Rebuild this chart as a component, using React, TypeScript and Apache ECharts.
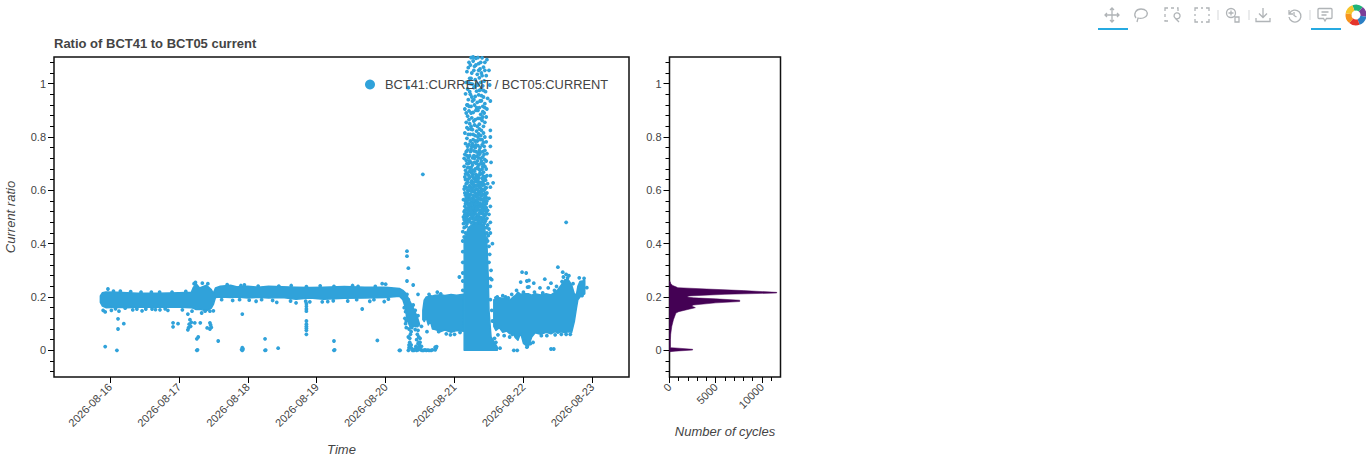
import React, { useEffect, useRef } from "react";
import * as echarts from "echarts";

const TITLE = "Ratio of BCT41 to BCT05 current";
const SERIES_NAME = "BCT41:CURRENT / BCT05:CURRENT";
const DAY_ZERO = Date.UTC(2026, 7, 16);
const DAY_MS = 86400000;

const dayTicks = ["2026-08-16", "2026-08-17", "2026-08-18", "2026-08-19", "2026-08-20", "2026-08-21", "2026-08-22", "2026-08-23"];
const ratioTicks = [0, 0.2, 0.4, 0.6, 0.8, 1];
const ratioMinor = [-0.08, -0.04, 0.04, 0.08, 0.12, 0.16, 0.24, 0.28, 0.32, 0.36, 0.44, 0.48, 0.52, 0.56, 0.64, 0.68, 0.72, 0.76, 0.84, 0.88, 0.92, 0.96, 1.04, 1.08];
const countTicks = [0, 5000, 10000];
const countMinor = [1000, 2000, 3000, 4000, 6000, 7000, 8000, 9000, 11000];

// dense measurement bands: [day offset from 2026-08-16, upper ratio, lower ratio]
const bandSteady: number[][] = [
  [-0.14, 0.204, 0.18], [-0.11, 0.216, 0.166], [-0.06, 0.219, 0.16], [0.1, 0.218, 0.162], [0.25, 0.216, 0.16], [0.4, 0.214, 0.162],
  [0.7, 0.214, 0.162], [1.0, 0.216, 0.162], [1.18, 0.218, 0.16], [1.21, 0.236, 0.158], [1.25, 0.25, 0.153],
  [1.3, 0.234, 0.154], [1.4, 0.244, 0.148], [1.47, 0.228, 0.158], [1.5, 0.214, 0.172], [1.53, 0.234, 0.198],
  [1.6, 0.24, 0.2], [1.75, 0.244, 0.198], [1.85, 0.238, 0.2], [2.0, 0.24, 0.196], [2.15, 0.237, 0.199], [2.3, 0.24, 0.196], [2.5, 0.238, 0.198], [2.7, 0.237, 0.192],
  [2.9, 0.236, 0.196], [3.1, 0.237, 0.192], [3.4, 0.239, 0.195], [3.7, 0.237, 0.196], [4.0, 0.237, 0.198], [4.2, 0.232, 0.203],
  [4.25, 0.225, 0.19], [4.28, 0.218, 0.165], [4.31, 0.205, 0.12], [4.35, 0.185, 0.09], [4.4, 0.16, 0.09], [4.46, 0.125, 0.088], [4.49, 0.1, 0.095],
];
const bandRecovery: number[][] = [
  [4.54, 0.15, 0.115], [4.56, 0.188, 0.108], [4.59, 0.2, 0.122], [4.62, 0.202, 0.095], [4.65, 0.205, 0.11], [4.68, 0.204, 0.08], [4.72, 0.207, 0.078],
  [4.8, 0.208, 0.07], [4.86, 0.206, 0.076], [4.95, 0.209, 0.068], [5.03, 0.207, 0.074], [5.13, 0.21, 0.072],
];
const bandColumn: number[][] = [
  [5.14, 0.41, 0], [5.2, 0.46, 0], [5.3, 0.48, 0], [5.43, 0.47, 0], [5.47, 0.4, 0], [5.49, 0.27, 0],
  [5.5, 0.15, 0], [5.53, 0.05, 0], [5.62, 0.012, 0],
];
const bandUnstable: number[][] = [
  [5.57, 0.19, 0.09], [5.6, 0.19, 0.075], [5.65, 0.197, 0.085], [5.7, 0.195, 0.068], [5.76, 0.198, 0.072], [5.8, 0.188, 0.062], [5.85, 0.2, 0.066], [5.88, 0.205, 0.048],
  [5.92, 0.218, 0.038], [5.96, 0.21, 0.065], [6.0, 0.212, 0.026], [6.07, 0.212, 0.012], [6.12, 0.207, 0.05], [6.17, 0.212, 0.066], [6.25, 0.208, 0.06],
  [6.33, 0.212, 0.068], [6.4, 0.208, 0.062], [6.46, 0.218, 0.07], [6.5, 0.228, 0.064], [6.55, 0.245, 0.07], [6.6, 0.265, 0.066], [6.65, 0.265, 0.07], [6.7, 0.245, 0.068],
  [6.74, 0.21, 0.11], [6.77, 0.21, 0.16], [6.79, 0.24, 0.19], [6.82, 0.258, 0.2], [6.89, 0.262, 0.212],
];

const isolatedPoints: number[][] = [
  [-0.03, 0.23], [-0.07, 0.144], [-0.1, 0.15], [0.13, 0.147], [0.116, 0.118], [0.2, 0.1], [0.116, 0.08], [-0.07, 0.014], [0.1, 0.0],
  [0.39, 0.155], [0.465, 0.148], [0.61, 0.155], [0.66, 0.153], [0.725, 0.152], [0.915, 0.103], [0.987, 0.1], [0.915, 0.088],
  [1.13, 0.136], [1.19, 0.147], [1.16, 0.115], [1.18, 0.105], [1.15, 0.098], [1.17, 0.09], [1.13, 0.077], [1.14, 0.085],
  [1.23, 0.103], [1.31, 0.103], [1.41, 0.084], [1.45, 0.103], [1.46, 0.095], [1.45, 0.08], [1.47, 0.086], [1.45, 0.147],
  [1.28, 0.05], [1.26, 0.043], [1.57, 0.035], [1.26, 0.0], [1.27, 0.002], [1.92, 0.136], [1.92, 0.0], [1.93, 0.005], [1.92, 0.01], [1.91, 0.003],
  [2.25, 0.043], [2.25, 0], [2.26, 0.001], [2.44, 0.008], [2.85, 0.175], [2.85, 0.165], [2.85, 0.155], [2.85, 0.147], [2.85, 0.11],
  [2.85, 0.098], [2.85, 0.09], [2.85, 0.083], [2.85, 0.075], [2.85, 0.06], [3.66, 0.155], [3.25, 0.035], [3.25, 0], [3.26, 0.002],
  [3.88, 0.037], [4.2, 0], [3.95, 0.25],
  [4.31, 0.372], [4.31, 0.353], [4.33, 0.308], [4.4, 0.245], [4.31, 0.26], [4.47, 0.21], [4.21, 0], [4.54, 0.66], [4.33, 0.985],
  [5.07, 0.275], [6.62, 0.48], [5.98, 0.293], [6.04, 0.29], [6.5, 0.312], [6.57, 0.293], [6.81, 0.272], [6.31, 0.267],
  [5.96, 0.256], [6.05, 0.26], [6.08, 0.262], [6.15, 0.252], [6.06, 0.237], [6.08, 0.238], [6.24, 0.234], [6.4, 0.252], [6.36, 0.234],
  [6.4, 0.005], [5.86, 0], [6.05, 0.012], [6.02, 0.033], [6.44, 0.005], [5.91, 0], [6.62, 0.285], [6.66, 0.28],
];

// the low cluster beside the 08-20 drop
const lowCluster: number[][] = [
  [4.33, 0], [4.34, 0.01], [4.35, 0.03], [4.33, 0.05], [4.36, 0.06], [4.34, 0.08], [4.36, 0.1], [4.37, 0.02], [4.39, 0], [4.41, 0],
  [4.43, 0.005], [4.45, 0], [4.47, 0.002], [4.49, 0.01], [4.5, 0.03], [4.48, 0.05], [4.46, 0.06], [4.45, 0.04], [4.47, 0.025], [4.52, 0.015],
  [4.51, 0.002], [4.53, 0], [4.55, 0], [4.57, 0.002], [4.59, 0], [4.61, 0.001], [4.63, 0], [4.66, 0], [4.68, 0.002], [4.72, 0.002],
  [4.73, 0.008], [4.74, 0.014], [4.72, 0.012], [4.3, 0.11], [4.32, 0.13], [4.5, 0.045], [4.49, 0.02],
  [4.35, 0.045], [4.37, 0.07], [4.34, 0.02], [4.36, 0.012], [4.38, 0.006], [4.44, 0.015], [4.46, 0.01], [4.48, 0.03], [4.5, 0.006], [4.42, 0.002],
  [4.28, 0.12], [4.29, 0.1], [4.3, 0.085], [4.38, 0.085], [4.43, 0.078], [4.47, 0.075], [4.52, 0.09],
];

// band edge scatter
const edgePoints: number[][] = [
  [0.02, 0.15], [0.08, 0.156], [0.22, 0.158], [0.33, 0.152], [0.52, 0.155], [0.8, 0.156], [0.84, 0.15], [1.05, 0.152],
  [1.33, 0.14], [1.38, 0.147], [1.5, 0.148], [1.62, 0.19], [1.78, 0.187], [1.88, 0.19], [2.02, 0.188], [2.12, 0.184], [2.2, 0.19],
  [2.36, 0.187], [2.42, 0.18], [2.62, 0.185], [2.7, 0.178], [2.84, 0.184], [2.9, 0.182], [3.08, 0.182], [3.16, 0.183], [3.24, 0.186],
  [3.45, 0.185], [3.58, 0.19], [3.77, 0.184], [3.83, 0.19], [3.98, 0.183], [4.04, 0.192], [0.05, 0.222], [0.3, 0.22], [0.72, 0.218],
  [1.22, 0.25], [1.24, 0.255], [1.34, 0.252], [1.42, 0.25], [1.7, 0.246], [1.95, 0.245], [2.63, 0.243], [3.05, 0.242], [3.52, 0.243], [4.0, 0.248],
  [4.63, 0.21], [4.75, 0.218], [4.8, 0.212], [4.6, 0.07], [4.77, 0.07], [4.88, 0.062], [5.0, 0.06], [5.08, 0.067], [4.94, 0.058],
  [5.63, 0.058], [5.72, 0.055], [5.8, 0.05], [5.84, 0.06], [5.62, 0.2], [5.7, 0.205], [5.74, 0.2], [5.83, 0.21], [6.1, 0.025], [6.14, 0.03],
  [6.26, 0.055], [6.34, 0.055], [6.46, 0.058], [6.55, 0.06], [6.62, 0.06], [6.68, 0.06], [6.74, 0.16], [6.76, 0.18], [6.16, 0.218], [6.28, 0.215],
  [6.45, 0.225], [6.48, 0.24], [6.56, 0.258], [6.58, 0.275], [6.64, 0.272], [6.72, 0.25], [6.88, 0.27], [6.92, 0.235], [6.85, 0.205], [5.55, 0.11],
  [5.52, 0.19], [5.54, 0.15], [5.55, 0.03], [5.66, 0.008], [5.6, 0.03], [5.58, 0.045],
  [0.15, 0.222], [0.45, 0.218], [0.6, 0.218], [0.9, 0.218], [1.1, 0.221], [1.9, 0.243], [2.15, 0.241], [2.45, 0.241], [2.85, 0.239], [3.25, 0.24], [3.6, 0.24], [3.85, 0.24],
  [4.31, 0.21], [4.33, 0.19], [4.27, 0.16], [4.29, 0.145], [4.33, 0.115], [4.4, 0.17], [4.43, 0.15], [4.47, 0.13], [5.6, 0.197], [5.78, 0.197], [5.9, 0.225], [6.0, 0.218],
];

// sparse part of the tall column, top to bottom
const columnDots: number[][] = [
  [5.24, 1.098], [5.31, 1.095], [5.4, 1.097], [5.47, 1.09], [5.21, 1.08], [5.27, 1.085], [5.35, 1.075], [5.44, 1.08], [5.2, 1.06], [5.29, 1.065],
  [5.37, 1.055], [5.42, 1.062], [5.5, 1.05], [5.18, 1.045], [5.25, 1.04], [5.33, 1.035], [5.39, 1.04], [5.46, 1.03], [5.22, 1.02], [5.3, 1.015],
  [5.36, 1.022], [5.43, 1.01], [5.17, 1.005], [5.26, 0.998], [5.34, 0.995], [5.41, 0.992], [5.51, 0.995], [5.19, 0.98], [5.28, 0.985], [5.32, 0.972],
  [5.38, 0.978], [5.45, 0.97], [5.16, 0.962], [5.23, 0.96], [5.3, 0.952], [5.35, 0.958], [5.42, 0.95], [5.48, 0.945], [5.2, 0.94], [5.26, 0.935],
  [5.33, 0.93], [5.39, 0.936], [5.44, 0.925], [5.52, 0.935], [5.18, 0.92], [5.24, 0.915], [5.29, 0.92], [5.36, 0.91], [5.41, 0.915], [5.47, 0.905],
  [5.15, 0.905], [5.21, 0.898], [5.27, 0.892], [5.31, 0.9], [5.38, 0.885], [5.43, 0.89], [5.19, 0.878], [5.25, 0.872], [5.34, 0.87], [5.4, 0.862],
  [5.46, 0.875], [5.17, 0.855], [5.22, 0.85], [5.29, 0.845], [5.36, 0.848], [5.42, 0.84], [5.2, 0.83], [5.26, 0.828], [5.32, 0.822], [5.39, 0.825],
  [5.52, 0.825], [5.15, 0.815], [5.23, 0.81], [5.3, 0.805], [5.35, 0.812], [5.44, 0.8], [5.52, 0.8], [5.18, 0.795], [5.27, 0.79], [5.33, 0.785],
  [5.4, 0.79], [5.46, 0.782], [5.16, 0.775], [5.21, 0.772], [5.25, 0.765], [5.31, 0.77], [5.37, 0.76], [5.43, 0.765], [5.52, 0.765], [5.19, 0.752],
  [5.28, 0.748], [5.34, 0.74], [5.41, 0.745], [5.47, 0.738], [5.15, 0.735], [5.22, 0.73], [5.26, 0.722], [5.32, 0.728], [5.38, 0.72], [5.44, 0.715],
  [5.17, 0.712], [5.2, 0.7], [5.29, 0.705], [5.35, 0.695], [5.42, 0.7], [5.53, 0.705], [5.14, 0.69], [5.24, 0.685], [5.3, 0.68], [5.37, 0.675],
  [5.46, 0.68], [5.18, 0.665], [5.22, 0.67], [5.27, 0.66], [5.33, 0.655], [5.4, 0.662], [5.44, 0.65], [5.52, 0.655], [5.15, 0.65], [5.2, 0.642],
  [5.25, 0.635], [5.31, 0.64], [5.36, 0.63], [5.42, 0.635], [5.48, 0.625], [5.56, 0.628], [5.17, 0.625], [5.22, 0.618], [5.28, 0.612], [5.34, 0.62],
  [5.39, 0.605], [5.45, 0.61], [5.52, 0.612], [5.14, 0.605], [5.19, 0.6], [5.25, 0.595], [5.3, 0.59], [5.36, 0.595], [5.41, 0.585], [5.47, 0.59],
  [5.16, 0.582], [5.21, 0.575], [5.27, 0.57], [5.32, 0.578], [5.38, 0.565], [5.43, 0.572], [5.5, 0.57], [5.13, 0.565], [5.18, 0.558], [5.24, 0.555],
  [5.29, 0.548], [5.34, 0.555], [5.4, 0.545], [5.46, 0.55], [5.52, 0.54], [5.15, 0.54], [5.2, 0.535], [5.26, 0.53], [5.31, 0.538], [5.37, 0.525],
  [5.42, 0.532], [5.48, 0.525], [5.14, 0.52], [5.18, 0.515], [5.23, 0.51], [5.28, 0.52], [5.33, 0.505], [5.39, 0.515], [5.44, 0.505], [5.5, 0.51],
  [5.13, 0.5], [5.16, 0.49], [5.19, 0.505], [5.22, 0.485], [5.26, 0.495], [5.36, 0.5], [5.41, 0.49], [5.47, 0.495], [5.52, 0.48], [5.13, 0.475],
  [5.48, 0.47], [5.5, 0.455], [5.52, 0.44], [5.12, 0.445], [5.49, 0.43], [5.55, 0.4], [5.12, 0.41], [5.5, 0.39], [5.12, 0.37], [5.51, 0.36],
  [5.12, 0.33], [5.5, 0.33], [5.53, 0.3], [5.12, 0.29], [5.52, 0.27], [5.54, 0.265], [5.12, 0.26], [5.52, 0.24], [5.12, 0.225],
];

// further readings of the same column, filling the denser lower part
const columnDotsDense: number[][] = [
  [5.15, 0.48], [5.18, 0.475], [5.21, 0.49], [5.24, 0.478], [5.27, 0.482], [5.3, 0.49], [5.32, 0.477], [5.35, 0.485], [5.38, 0.478], [5.4, 0.483],
  [5.43, 0.475], [5.45, 0.485], [5.14, 0.46], [5.17, 0.465], [5.16, 0.44], [5.46, 0.46], [5.47, 0.44], [5.46, 0.42], [5.14, 0.425], [5.48, 0.41],
  [5.16, 0.5], [5.21, 0.51], [5.25, 0.505], [5.3, 0.512], [5.31, 0.498], [5.36, 0.515], [5.42, 0.51], [5.46, 0.515], [5.34, 0.495], [5.39, 0.498],
  [5.15, 0.525], [5.22, 0.525], [5.27, 0.515], [5.29, 0.532], [5.34, 0.528], [5.4, 0.53], [5.44, 0.525], [5.46, 0.535], [5.17, 0.53], [5.24, 0.54],
  [5.28, 0.54], [5.33, 0.542], [5.36, 0.538], [5.42, 0.545], [5.19, 0.548], [5.22, 0.552], [5.27, 0.555], [5.31, 0.56], [5.37, 0.552], [5.44, 0.56],
  [5.16, 0.56], [5.2, 0.565], [5.25, 0.57], [5.29, 0.565], [5.35, 0.57], [5.4, 0.565], [5.46, 0.572], [5.18, 0.578], [5.23, 0.585], [5.3, 0.578],
  [5.34, 0.588], [5.39, 0.58], [5.44, 0.588], [5.15, 0.59], [5.21, 0.6], [5.27, 0.595], [5.32, 0.605], [5.37, 0.61], [5.43, 0.6], [5.17, 0.61],
  [5.24, 0.612], [5.3, 0.618], [5.36, 0.612], [5.41, 0.62], [5.46, 0.61], [5.19, 0.63], [5.26, 0.625], [5.33, 0.632], [5.39, 0.63], [5.45, 0.638],
  [5.16, 0.64], [5.22, 0.648], [5.28, 0.645], [5.35, 0.648], [5.42, 0.652], [5.47, 0.655], [5.19, 0.66], [5.25, 0.665], [5.31, 0.66], [5.37, 0.665],
  [5.16, 0.675], [5.21, 0.685], [5.27, 0.675], [5.33, 0.685], [5.4, 0.68], [5.44, 0.69], [5.18, 0.7], [5.24, 0.705], [5.32, 0.7], [5.38, 0.7],
  [5.46, 0.71], [5.14, 0.72], [5.2, 0.722], [5.29, 0.72], [5.35, 0.722], [5.41, 0.725], [5.17, 0.745], [5.23, 0.745], [5.31, 0.745], [5.37, 0.74],
  [5.44, 0.75], [5.19, 0.765], [5.28, 0.765], [5.34, 0.768], [5.4, 0.77], [5.23, 0.785], [5.3, 0.785], [5.37, 0.79], [5.2, 0.81], [5.27, 0.81],
  [5.38, 0.805], [5.42, 0.815], [5.18, 0.835], [5.24, 0.84], [5.33, 0.84], [5.44, 0.855], [5.21, 0.865], [5.3, 0.865], [5.37, 0.87], [5.17, 0.89],
  [5.24, 0.89], [5.34, 0.9], [5.41, 0.895], [5.19, 0.92], [5.28, 0.94], [5.37, 0.935], [5.22, 0.97], [5.36, 0.975], [5.42, 0.975], [5.2, 1.005],
  [5.3, 0.99], [5.38, 1.005], [5.24, 1.02], [5.4, 1.03], [5.28, 1.05], [5.35, 1.05], [5.23, 1.07], [5.38, 1.08], [5.34, 1.098], [5.27, 1.1],
  [5.14, 0.49], [5.19, 0.483], [5.23, 0.495], [5.27, 0.505], [5.33, 0.49], [5.37, 0.492], [5.42, 0.497], [5.44, 0.49], [5.18, 0.495], [5.29, 0.495],
  [5.15, 0.51], [5.2, 0.52], [5.25, 0.518], [5.31, 0.522], [5.35, 0.51], [5.38, 0.52], [5.41, 0.52], [5.45, 0.51], [5.19, 0.53], [5.23, 0.528],
  [5.27, 0.535], [5.32, 0.532], [5.39, 0.54], [5.44, 0.54], [5.16, 0.55], [5.21, 0.545], [5.25, 0.548], [5.3, 0.55], [5.35, 0.548], [5.38, 0.545],
  [5.42, 0.555], [5.47, 0.56], [5.19, 0.565], [5.23, 0.565], [5.28, 0.562], [5.33, 0.565], [5.37, 0.572], [5.42, 0.565], [5.17, 0.572], [5.22, 0.582],
  [5.27, 0.58], [5.33, 0.58], [5.37, 0.585], [5.45, 0.578], [5.19, 0.59], [5.25, 0.605], [5.29, 0.6], [5.34, 0.6], [5.39, 0.595], [5.44, 0.605],
  [5.15, 0.615], [5.21, 0.612], [5.27, 0.622], [5.32, 0.618], [5.38, 0.62], [5.43, 0.622], [5.18, 0.64], [5.24, 0.63], [5.29, 0.632], [5.34, 0.64],
  [5.4, 0.645], [5.45, 0.65], [5.21, 0.655], [5.26, 0.652], [5.31, 0.65], [5.36, 0.658], [5.42, 0.668], [5.16, 0.662], [5.23, 0.675], [5.29, 0.672],
  [5.35, 0.68], [5.41, 0.69], [5.19, 0.685], [5.26, 0.695], [5.33, 0.71], [5.39, 0.71], [5.22, 0.71], [5.28, 0.73], [5.36, 0.735], [5.43, 0.735],
  [5.18, 0.73], [5.24, 0.755], [5.3, 0.76], [5.36, 0.75], [5.42, 0.78], [5.26, 0.775], [5.34, 0.8], [5.24, 0.83], [5.36, 0.83], [5.28, 0.86],
  [5.41, 0.875], [5.21, 0.915], [5.32, 0.91], [5.44, 0.91], [5.25, 0.95], [5.39, 0.955], [5.32, 1.0], [5.23, 1.0], [5.44, 1.05], [5.31, 1.07],
];

// histogram outline: [cycles, ratio]
const histOutline: number[][] = [
  [0, 0.26], [60, 0.258], [150, 0.25], [350, 0.243], [700, 0.238], [900, 0.235], [4000, 0.23], [8000, 0.224], [11600, 0.2175],
  [11600, 0.215], [6000, 0.21], [2100, 0.204], [1900, 0.2], [2600, 0.197], [5000, 0.193], [7600, 0.188], [7600, 0.183],
  [5000, 0.178], [2600, 0.17], [2400, 0.166], [2800, 0.16], [2200, 0.155], [1000, 0.145], [700, 0.14], [430, 0.115], [250, 0.09],
  [130, 0.06], [100, 0.04], [100, 0.01], [600, 0.009], [2500, 0.004], [2500, 0.001], [600, -0.003], [100, -0.005], [0, -0.006],
];

const toolbarPaths: Record<string, string> = {
  tbMove: "M8 1 L8 15 M1 8 L15 8 M6 3 L8 1 L10 3 M6 13 L8 15 L10 13 M3 6 L1 8 L3 10 M13 6 L15 8 L13 10",
  tbLasso: "M3 11 C0 7 3 2 8 2 C13 2 15 5 14 8 C13 11 8 12 5 11 L4 15",
  tbBoxZoom: "M1 4 L1 1 L4 1 M7 1 L10 1 M13 1 L14 1 L14 4 M1 7 L1 10 M1 13 L1 14 L4 14 M11 11 A3 3 0 1 0 10.9 10.9 M11 11 L15 15",
  tbBoxSelect: "M1 4 L1 1 L4 1 M7 1 L9 1 M12 1 L15 1 L15 4 M1 7 L1 9 M15 7 L15 9 M1 12 L1 15 L4 15 M7 15 L9 15 M12 15 L15 15 L15 12",
  tbWheel: "M6 6 m-4.5 0 a4.5 4.5 0 1 0 9 0 a4.5 4.5 0 1 0 -9 0 M6 3.5 L6 8.5 M3.5 6 L8.5 6 M10 10 L10 15 L14 15 L14 10 Z",
  tbSave: "M8 1 L8 10 M4 6.5 L8 10.5 L12 6.5 M1 11 L1 14.5 L15 14.5 L15 11",
  tbReset: "M3 3 L3 7 L7 7 M3.5 6.5 A6 6 0 1 1 3 10 M8 5 L8 8.5 L10.5 10",
  tbComment: "M2 1.5 L14 1.5 Q15 1.5 15 2.5 L15 10.5 Q15 11.5 14 11.5 L9.5 11.5 L8 14 L6.5 11.5 L2 11.5 Q1 11.5 1 10.5 L1 2.5 Q1 1.5 2 1.5 Z M4.5 5 L11.5 5 M4.5 8 L9.5 8",
};
Object.keys(toolbarPaths).forEach((k) => {
  echarts.graphic.registerShape(k, echarts.graphic.extendPath(toolbarPaths[k], {}));
});

const BLUE = "#30a2da";
const PURPLE = "#440154";
const TEXT = "#444444";
const FONT = '"Liberation Sans", Helvetica, Arial, sans-serif';
const toTime = (d: number) => DAY_ZERO + d * DAY_MS;

function bandSeries(name: string, band: number[][]) {
  return {
    type: "custom",
    name,
    xAxisIndex: 0,
    yAxisIndex: 0,
    silent: true,
    z: 2,
    data: [[toTime(band[0][0]), band[0][1]]],
    renderItem: (_p: any, api: any) => {
      const upper = band.map((r) => api.coord([toTime(r[0]), r[1]]));
      const lower = band.map((r) => api.coord([toTime(r[0]), r[2]])).reverse();
      return {
        type: "polygon",
        shape: { points: upper.concat(lower) },
        style: { fill: BLUE, stroke: BLUE, lineWidth: 1.5, lineJoin: "round" },
      };
    },
  };
}

const allPoints = [...isolatedPoints, ...lowCluster, ...edgePoints, ...columnDots, ...columnDotsDense].map((p) => [toTime(p[0]), p[1]]);

function toolbarGraphics() {
  const icons: [string, number, number][] = [
    ["tbMove", 1104, 7], ["tbLasso", 1133, 7], ["tbBoxZoom", 1164, 7], ["tbBoxSelect", 1194, 7], ["tbWheel", 1225, 7],
    ["tbSave", 1255, 7], ["tbReset", 1286, 7], ["tbComment", 1317, 7],
  ];
  const elements: any[] = icons.map(([type, x, y]) => ({
    type, x, y, silent: true,
    style: { fill: "none", stroke: "#b0b4b7", lineWidth: 1.3 },
  }));
  [1218, 1249, 1310].forEach((x) =>
    elements.push({ type: "line", silent: true, shape: { x1: x, y1: 10, x2: x, y2: 20 }, style: { stroke: "#d5d7d9", lineWidth: 1 } })
  );
  [1098, 1311].forEach((x) =>
    elements.push({ type: "rect", silent: true, shape: { x, y: 28, width: 30, height: 2 }, style: { fill: "#26aae1" } })
  );
  const logoColors = ["#1fb37a", "#7b3f98", "#2b7fc4", "#e5352c", "#f7941e", "#f6c52b"];
  logoColors.forEach((fill, i) =>
    elements.push({
      type: "sector", silent: true,
      shape: { cx: 1356, cy: 15, r: 10.5, r0: 4.5, startAngle: -Math.PI / 2 - 0.35 + (i * Math.PI) / 3, endAngle: -Math.PI / 2 - 0.35 + ((i + 1) * Math.PI) / 3 },
      style: { fill },
    })
  );
  return elements;
}

export default function App() {
  const ref = useRef<HTMLDivElement>(null);
  useEffect(() => {
    document.body.style.margin = "0";
    const chart = echarts.init(ref.current!, undefined, { renderer: "svg" });
    const xMin = toTime(-0.813);
    const xMax = toTime(7.532);
    const tickTimes = dayTicks.map((_, i) => toTime(i));
    const tickStyle = { color: TEXT, fontSize: 11, fontFamily: FONT };
    const nameStyle = { color: TEXT, fontSize: 13, fontStyle: "italic" as const, fontFamily: FONT };
    chart.setOption({
      animation: false,
      backgroundColor: "#ffffff",
      textStyle: { fontFamily: FONT },
      title: {
        text: TITLE, left: 54, top: 37, padding: 0,
        textStyle: { color: TEXT, fontSize: 13, fontWeight: "bold", fontFamily: FONT },
      },
      legend: {
        data: [{ name: SERIES_NAME, icon: "circle" }],
        left: 365, top: 78, padding: 0, itemWidth: 10, itemHeight: 10,
        selectedMode: false,
        textStyle: { color: TEXT, fontSize: 12.85, fontFamily: FONT, padding: [0, 0, 0, 5] },
      },
      grid: [
        { left: 54, top: 57, width: 575, height: 320, show: true, borderColor: "#111", borderWidth: 1.5, backgroundColor: "transparent", outerBoundsMode: "none" },
        { left: 669.5, top: 57, width: 111, height: 320, show: true, borderColor: "#111", borderWidth: 1.5, backgroundColor: "transparent", outerBoundsMode: "none" },
      ],
      xAxis: [
        {
          type: "value", gridIndex: 0, min: xMin, max: xMax, name: "Time", nameLocation: "middle", nameGap: 66, nameTextStyle: nameStyle,
          splitLine: { show: false }, axisLine: { show: false, onZero: false },
          axisTick: { show: true, length: 6, customValues: tickTimes, lineStyle: { color: "#000" } },
          axisLabel: {
            show: true, rotate: 45, margin: 8, ...tickStyle, customValues: tickTimes, hideOverlap: false,
            formatter: (v: number) => dayTicks[Math.round((v - DAY_ZERO) / DAY_MS)] ?? "",
          },
        },
        {
          type: "value", gridIndex: 1, min: 0, max: 12010, name: "Number of cycles", nameLocation: "middle", nameGap: 48, nameTextStyle: nameStyle,
          splitLine: { show: false }, axisLine: { show: false, onZero: false },
          axisTick: { show: true, length: 6, customValues: countTicks, lineStyle: { color: "#000" } },
          axisLabel: { show: true, rotate: 45, margin: 8, ...tickStyle, customValues: countTicks, formatter: (v: number) => String(v) },
        },
        {
          type: "value", gridIndex: 1, min: 0, max: 12010, position: "bottom",
          splitLine: { show: false }, axisLine: { show: false, onZero: false }, axisLabel: { show: false },
          axisTick: { show: true, length: 4, customValues: countMinor, lineStyle: { color: "#000" } },
        },
      ],
      yAxis: [0, 1].flatMap((g) => [
        {
          type: "value", gridIndex: g, min: -0.1, max: 1.1,
          name: g === 0 ? "Current ratio" : "", nameLocation: "middle", nameGap: 37, nameTextStyle: nameStyle,
          splitLine: { show: false }, axisLine: { show: false, onZero: false },
          axisTick: { show: true, length: 6, customValues: ratioTicks, lineStyle: { color: "#000" } },
          axisLabel: { show: true, margin: 8, ...tickStyle, customValues: ratioTicks, formatter: (v: number) => String(v) },
        },
        {
          type: "value", gridIndex: g, min: -0.1, max: 1.1, position: "left",
          splitLine: { show: false }, axisLine: { show: false, onZero: false }, axisLabel: { show: false },
          axisTick: { show: true, length: 4, customValues: ratioMinor, lineStyle: { color: "#000" } },
        },
      ]),
      series: [
        bandSeries("steady", bandSteady),
        bandSeries("recovery", bandRecovery),
        bandSeries("column", bandColumn),
        bandSeries("unstable", bandUnstable),
        {
          type: "scatter", name: SERIES_NAME, xAxisIndex: 0, yAxisIndex: 0, data: allPoints, symbol: "circle", symbolSize: 3.8,
          itemStyle: { color: BLUE, opacity: 1 }, z: 3, silent: true,
        },
        {
          type: "custom", name: "histogram", xAxisIndex: 1, yAxisIndex: 2, silent: true, z: 2,
          data: [histOutline[0]],
          renderItem: (_p: any, api: any) => ({
            type: "polygon",
            shape: { points: histOutline.map((r) => api.coord(r)) },
            style: { fill: PURPLE, stroke: PURPLE, lineWidth: 0.5 },
          }),
        },
      ],
      graphic: { elements: toolbarGraphics() },
    });
    return () => chart.dispose();
  }, []);
  return <div ref={ref} style={{ position: "absolute", left: 0, top: 0, width: 1366, height: 460 }} />;
}
